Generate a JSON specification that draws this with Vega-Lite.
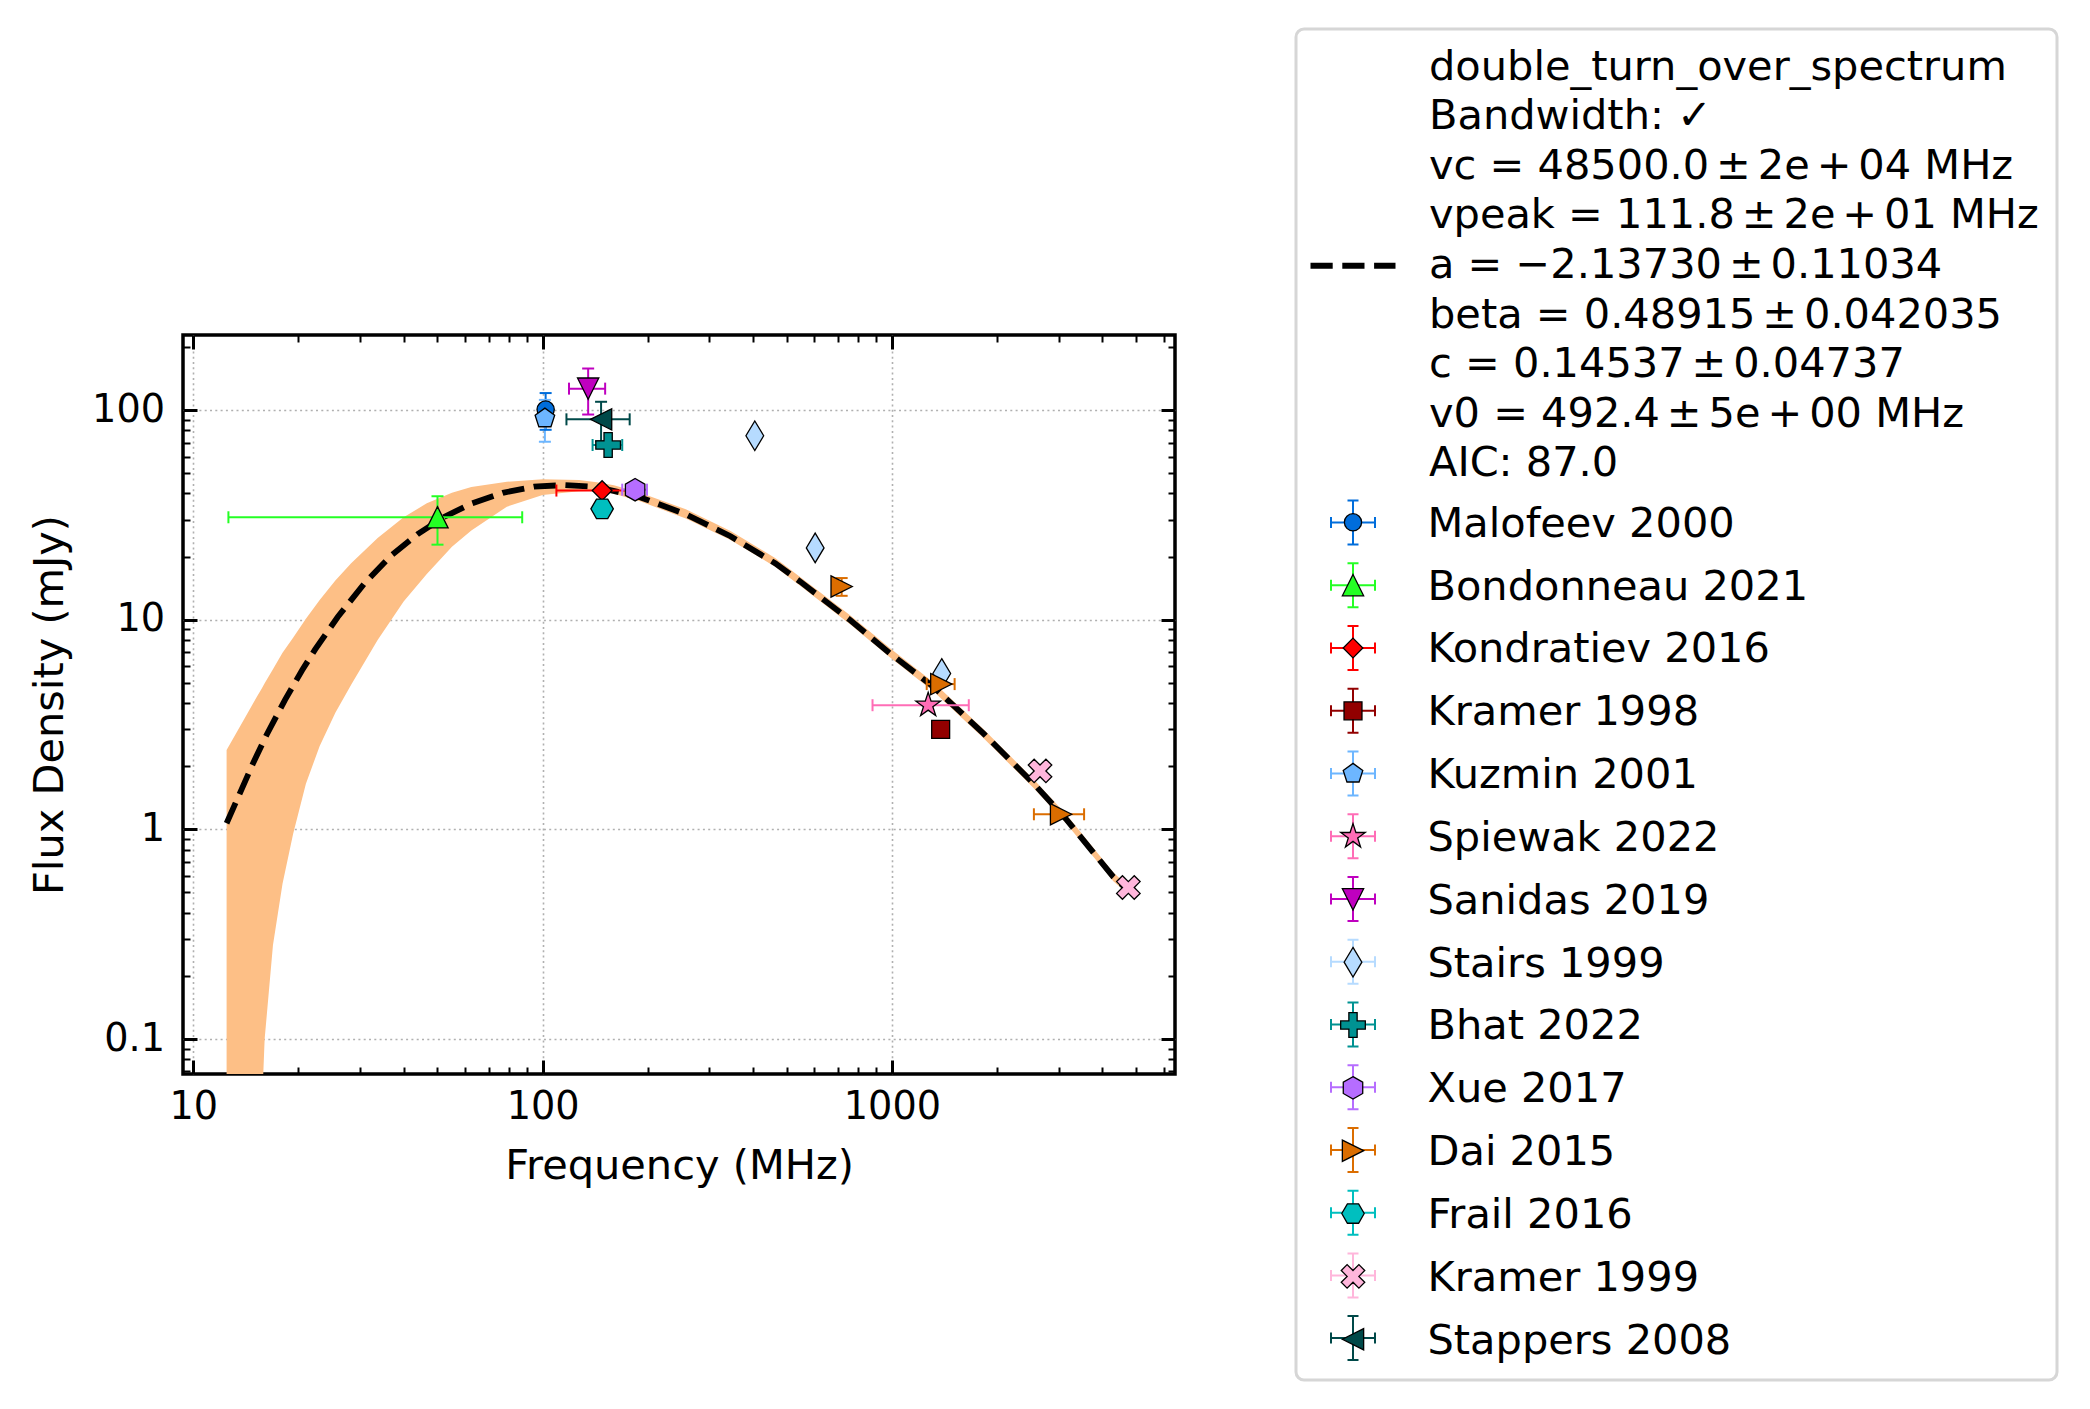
{
  "$schema": "https://vega.github.io/schema/vega-lite/v6.json",
  "autosize": {"type": "none"},
  "padding": {"left": 183, "top": 335, "right": 915, "bottom": 335},
  "width": 992,
  "height": 739,
  "background": "white",
  "config": {
    "view": {"stroke": "black", "strokeWidth": 3.5},
    "font": "DejaVu Sans"
  },
  "datasets": {
    "band": [
      {"f": 12.45, "lo": 0.03, "hi": 2.39},
      {"f": 14.0, "lo": 0.03, "hi": 3.37},
      {"f": 15.2, "lo": 0.03, "hi": 4.29},
      {"f": 15.7, "lo": 0.045, "hi": 4.7},
      {"f": 16.0, "lo": 0.1, "hi": 4.97},
      {"f": 16.9, "lo": 0.28, "hi": 5.8},
      {"f": 18.0, "lo": 0.55, "hi": 6.95},
      {"f": 19.3, "lo": 0.95, "hi": 8.2},
      {"f": 21.0, "lo": 1.65, "hi": 10.1},
      {"f": 23.0, "lo": 2.5, "hi": 12.4},
      {"f": 25.5, "lo": 3.6, "hi": 15.4},
      {"f": 28.3, "lo": 4.9, "hi": 18.6},
      {"f": 33.7, "lo": 8.0, "hi": 24.5},
      {"f": 40.0, "lo": 12.2, "hi": 30.8},
      {"f": 46.6, "lo": 16.5, "hi": 35.9},
      {"f": 55.0, "lo": 22.3, "hi": 40.3},
      {"f": 62.5, "lo": 26.6, "hi": 43.0},
      {"f": 79.0, "lo": 34.6, "hi": 45.5},
      {"f": 100, "lo": 39.3, "hi": 46.7},
      {"f": 127, "lo": 41.0, "hi": 46.4},
      {"f": 143, "lo": 41.2, "hi": 45.3},
      {"f": 160, "lo": 39.9, "hi": 43.8},
      {"f": 191, "lo": 36.6, "hi": 40.2},
      {"f": 257, "lo": 30.4, "hi": 33.6},
      {"f": 345, "lo": 24.0, "hi": 26.5},
      {"f": 463, "lo": 17.9, "hi": 19.7},
      {"f": 546, "lo": 14.5, "hi": 16.0},
      {"f": 759, "lo": 9.5, "hi": 10.5},
      {"f": 988, "lo": 6.6, "hi": 7.3},
      {"f": 1314, "lo": 4.56, "hi": 5.03},
      {"f": 1827, "lo": 2.73, "hi": 3.01},
      {"f": 2540, "lo": 1.58, "hi": 1.74},
      {"f": 3166, "lo": 1.06, "hi": 1.17},
      {"f": 4305, "lo": 0.565, "hi": 0.623},
      {"f": 4750, "lo": 0.49, "hi": 0.535}
    ],
    "curve": [
      {"f": 12.45, "s": 1.07},
      {"f": 13.5, "s": 1.45},
      {"f": 14.85, "s": 2.08},
      {"f": 16.2, "s": 2.82},
      {"f": 18.3, "s": 4.15},
      {"f": 20.5, "s": 5.75},
      {"f": 22.3, "s": 7.2},
      {"f": 25.9, "s": 10.3},
      {"f": 30.9, "s": 14.9},
      {"f": 36.8, "s": 20.2},
      {"f": 44.0, "s": 25.7},
      {"f": 52.4, "s": 31.0},
      {"f": 62.5, "s": 35.8},
      {"f": 76.9, "s": 40.3},
      {"f": 94.4, "s": 43.1},
      {"f": 116, "s": 43.9},
      {"f": 143, "s": 43.0},
      {"f": 191, "s": 38.3},
      {"f": 257, "s": 31.8},
      {"f": 345, "s": 25.0},
      {"f": 463, "s": 18.6},
      {"f": 546, "s": 15.2},
      {"f": 759, "s": 9.96},
      {"f": 988, "s": 6.9},
      {"f": 1314, "s": 4.79},
      {"f": 1827, "s": 2.87},
      {"f": 2540, "s": 1.66},
      {"f": 3166, "s": 1.11},
      {"f": 4305, "s": 0.593},
      {"f": 4750, "s": 0.512}
    ],
    "pts": [
      {"source": "Malofeev 2000", "f": 102, "s": 100.5, "s_lo": 80.5, "s_hi": 120.5},
      {"source": "Bondonneau 2021", "f": 50, "s": 30.8, "f_lo": 12.6, "f_hi": 87.4, "s_lo": 22.8, "s_hi": 38.8},
      {"source": "Kondratiev 2016", "f": 148, "s": 41.3, "f_lo": 109.5, "f_hi": 186.5},
      {"source": "Kramer 1998", "f": 1379, "s": 3.0},
      {"source": "Kuzmin 2001", "f": 101.5, "s": 91.2, "s_lo": 70.6, "s_hi": 111.8},
      {"source": "Spiewak 2022", "f": 1270, "s": 3.91, "f_lo": 880, "f_hi": 1660},
      {"source": "Sanidas 2019", "f": 135, "s": 126.5, "f_lo": 119, "f_hi": 151, "s_lo": 95.2, "s_hi": 157.8},
      {"source": "Stairs 1999", "f": 405, "s": 75.4},
      {"source": "Stairs 1999", "f": 603, "s": 22.0},
      {"source": "Stairs 1999", "f": 1389, "s": 5.54},
      {"source": "Bhat 2022", "f": 154, "s": 68.1, "f_lo": 139, "f_hi": 169},
      {"source": "Xue 2017", "f": 184, "s": 41.7, "f_lo": 169, "f_hi": 199},
      {"source": "Dai 2015", "f": 718, "s": 14.4, "s_lo": 13.0, "s_hi": 15.8},
      {"source": "Dai 2015", "f": 1385, "s": 4.93, "f_lo": 1258, "f_hi": 1512},
      {"source": "Dai 2015", "f": 3050, "s": 1.18, "f_lo": 2550, "f_hi": 3550},
      {"source": "Frail 2016", "f": 148, "s": 33.8},
      {"source": "Kramer 1999", "f": 2655, "s": 1.9},
      {"source": "Kramer 1999", "f": 4753, "s": 0.528},
      {"source": "Stappers 2008", "f": 147, "s": 90.3, "f_lo": 117, "f_hi": 177.5, "s_lo": 71, "s_hi": 109.5}
    ]
  },
  "resolve": {"axis": {"x": "independent", "y": "independent"}},
  "layer": [
    {
      "data": {"name": "band"},
      "mark": {"type": "area", "fill": "#fdbf86", "clip": true, "interpolate": "linear"},
      "encoding": {
        "x": {"field": "f", "type": "quantitative", "scale": {"type": "log", "domain": [9.34, 6464], "nice": false},
          "axis": {"orient": "bottom", "values": [10, 100, 1000], "format": "~g", "labelFont": "DejaVu Sans", "labelFontSize": 38.2, "labelColor": "black", "labelPadding": 14, "labelFlush": false, "labelOverlap": false, "labelBound": false, "ticks": false, "tickSize": 0, "domain": false, "grid": true, "gridColor": "#b0b0b0", "gridDash": [2, 3.3], "gridWidth": 1.6, "title": "Frequency (MHz)", "titleFont": "DejaVu Sans", "titleFontSize": 41.5, "titleFontWeight": "normal", "titleColor": "black", "titleBaseline": "alphabetic", "titleY": 104}},
        "y": {"field": "lo", "type": "quantitative", "scale": {"type": "log", "domain": [0.0681, 228], "nice": false},
          "axis": {"orient": "left", "values": [0.1, 1, 10, 100], "format": "~g", "labelFont": "DejaVu Sans", "labelFontSize": 38.2, "labelColor": "black", "labelPadding": 18.5, "labelFlush": false, "labelOverlap": false, "labelBound": false, "ticks": false, "tickSize": 0, "domain": false, "grid": true, "gridColor": "#b0b0b0", "gridDash": [2, 3.3], "gridWidth": 1.6, "title": "Flux Density (mJy)", "titleFont": "DejaVu Sans", "titleFontSize": 41.5, "titleFontWeight": "normal", "titleColor": "black", "titleAngle": 270, "titleBaseline": "alphabetic", "titleAlign": "center", "titleX": -121, "titleY": 369.5}},
        "y2": {"field": "hi"}
      }
    },
    {
      "data": {"name": "curve"},
      "mark": {"type": "line", "stroke": "black", "strokeWidth": 5.8, "strokeCap": "butt", "clip": true},
      "encoding": {
        "x": {"field": "f", "type": "quantitative", "scale": {"type": "log", "domain": [9.34, 6464], "nice": false},
          "axis": {"orient": "bottom", "values": [10, 100, 1000], "labels": false, "domain": false, "grid": false, "ticks": true, "tickSize": 14, "tickWidth": 3, "tickColor": "black", "offset": -14, "title": null}},
        "y": {"field": "s", "type": "quantitative", "scale": {"type": "log", "domain": [0.0681, 228], "nice": false},
          "axis": {"orient": "left", "values": [0.1, 1, 10, 100], "labels": false, "domain": false, "grid": false, "ticks": true, "tickSize": 14, "tickWidth": 3, "tickColor": "black", "offset": -14, "title": null}},
        "strokeDash": {"datum": "fit", "type": "nominal", "scale": {"domain": ["fit"], "range": [[22.2, 9.6]]},
          "legend": {"orient": "none", "legendX": 1124.5, "legendY": -114.8, "title": null, "labelExpr": "''", "labelFontSize": 1, "symbolType": "stroke", "symbolSize": 7225, "symbolStrokeColor": "black", "symbolStrokeWidth": 6, "symbolDash": [22.2, 9.6], "padding": 0, "symbolOffset": 0}}
      }
    },
    {
      "data": {"name": "pts"},
      "transform": [{"filter": "isValid(datum.s_lo)"}],
      "mark": {"type": "rule", "strokeWidth": 2, "opacity": 1},
      "encoding": {
        "x": {"field": "f", "type": "quantitative", "scale": {"type": "log", "domain": [9.34, 6464], "nice": false},
          "axis": {"orient": "bottom", "values": [20, 30, 40, 50, 60, 70, 80, 90, 200, 300, 400, 500, 600, 700, 800, 900, 2000, 3000, 4000, 5000, 6000], "labels": false, "domain": false, "grid": false, "ticks": true, "tickSize": 7, "tickWidth": 2, "tickColor": "black", "offset": -7, "title": null}},
        "y": {"field": "s_lo", "type": "quantitative", "scale": {"type": "log", "domain": [0.0681, 228], "nice": false},
          "axis": {"orient": "left", "values": [0.07, 0.08, 0.09, 0.2, 0.3, 0.4, 0.5, 0.6, 0.7, 0.8, 0.9, 2, 3, 4, 5, 6, 7, 8, 9, 20, 30, 40, 50, 60, 70, 80, 90, 200], "labels": false, "domain": false, "grid": false, "ticks": true, "tickSize": 7, "tickWidth": 2, "tickColor": "black", "offset": -7, "title": null}},
        "y2": {"field": "s_hi"},
        "color": {"field": "source", "type": "nominal",
          "scale": {"domain": ["Malofeev 2000", "Bondonneau 2021", "Kondratiev 2016", "Kramer 1998", "Kuzmin 2001", "Spiewak 2022", "Sanidas 2019", "Stairs 1999", "Bhat 2022", "Xue 2017", "Dai 2015", "Frail 2016", "Kramer 1999", "Stappers 2008", "zz"],
                    "range": ["#006ddb", "#24ff24", "#ff0000", "#920000", "#6db6ff", "#ff6db6", "#bf00bf", "#b6dbff", "#009292", "#b66dff", "#db6d00", "#00bfbf", "#ffb6db", "#004949", "#000000"]},
          "legend": {"orient": "none", "legendX": 1113, "legendY": 147,
            "values": ["Malofeev 2000", "Bondonneau 2021", "Kondratiev 2016", "Kramer 1998", "Kuzmin 2001", "Spiewak 2022", "Sanidas 2019", "Stairs 1999", "Bhat 2022", "Xue 2017", "Dai 2015", "Frail 2016", "Kramer 1999", "Stappers 2008"],
            "title": null,
            "labelExpr": "''", "labelFont": "DejaVu Sans", "labelFontSize": 41.5, "labelLimit": 3000, "labelOffset": 51.5,
            "symbolType": "M-1,0L1,0M0,-1L0,1M-1,-0.25L-1,0.25M1,-0.25L1,0.25M-0.25,-1L0.25,-1M-0.25,1L0.25,1",
            "symbolSize": 1936, "symbolStrokeWidth": 2, "symbolFillColor": "transparent", "symbolOffset": 16.5, "symbolOpacity": 1,
            "rowPadding": 10.74, "padding": 17.5}}
      }
    },
    {
      "data": {"name": "pts"},
      "transform": [{"filter": "isValid(datum.f_lo)"}],
      "mark": {"type": "rule", "strokeWidth": 2, "opacity": 1},
      "encoding": {
        "x": {"field": "f_lo", "type": "quantitative", "scale": {"type": "log", "domain": [9.34, 6464], "nice": false},
          "axis": {"orient": "top", "values": [10, 100, 1000], "labels": false, "domain": false, "grid": false, "ticks": true, "tickSize": 14, "tickWidth": 3, "tickColor": "black", "offset": -14, "title": null}},
        "x2": {"field": "f_hi"},
        "y": {"field": "s", "type": "quantitative", "scale": {"type": "log", "domain": [0.0681, 228], "nice": false},
          "axis": {"orient": "right", "values": [0.1, 1, 10, 100], "labels": false, "domain": false, "grid": false, "ticks": true, "tickSize": 14, "tickWidth": 3, "tickColor": "black", "offset": -14, "title": null}},
        "color": {"field": "source", "type": "nominal"}
      }
    },
    {
      "data": {"name": "pts"},
      "transform": [{"filter": "isValid(datum.s_hi)"}],
      "mark": {"type": "point", "filled": false, "shape": "M-1,0L1,0", "size": 144, "strokeWidth": 2, "opacity": 1},
      "encoding": {
        "x": {"field": "f", "type": "quantitative", "scale": {"type": "log", "domain": [9.34, 6464], "nice": false},
          "axis": {"orient": "top", "values": [20, 30, 40, 50, 60, 70, 80, 90, 200, 300, 400, 500, 600, 700, 800, 900, 2000, 3000, 4000, 5000, 6000], "labels": false, "domain": false, "grid": false, "ticks": true, "tickSize": 7, "tickWidth": 2, "tickColor": "black", "offset": -7, "title": null}},
        "y": {"field": "s_hi", "type": "quantitative", "scale": {"type": "log", "domain": [0.0681, 228], "nice": false},
          "axis": {"orient": "right", "values": [0.07, 0.08, 0.09, 0.2, 0.3, 0.4, 0.5, 0.6, 0.7, 0.8, 0.9, 2, 3, 4, 5, 6, 7, 8, 9, 20, 30, 40, 50, 60, 70, 80, 90, 200], "labels": false, "domain": false, "grid": false, "ticks": true, "tickSize": 7, "tickWidth": 2, "tickColor": "black", "offset": -7, "title": null}},
        "color": {"field": "source", "type": "nominal"}
      }
    },
    {
      "data": {"name": "pts"},
      "transform": [{"filter": "isValid(datum.s_lo)"}],
      "mark": {"type": "point", "filled": false, "shape": "M-1,0L1,0", "size": 144, "strokeWidth": 2, "opacity": 1},
      "encoding": {
        "x": {"field": "f", "type": "quantitative", "scale": {"type": "log", "domain": [9.34, 6464], "nice": false}, "axis": null},
        "y": {"field": "s_lo", "type": "quantitative", "scale": {"type": "log", "domain": [0.0681, 228], "nice": false}, "axis": null},
        "color": {"field": "source", "type": "nominal"}
      }
    },
    {
      "data": {"name": "pts"},
      "transform": [{"filter": "isValid(datum.f_lo)"}],
      "mark": {"type": "point", "filled": false, "shape": "M0,-1L0,1", "size": 144, "strokeWidth": 2, "opacity": 1},
      "encoding": {
        "x": {"field": "f_lo", "type": "quantitative", "scale": {"type": "log", "domain": [9.34, 6464], "nice": false}, "axis": null},
        "y": {"field": "s", "type": "quantitative", "scale": {"type": "log", "domain": [0.0681, 228], "nice": false}, "axis": null},
        "color": {"field": "source", "type": "nominal"}
      }
    },
    {
      "data": {"name": "pts"},
      "transform": [{"filter": "isValid(datum.f_hi)"}],
      "mark": {"type": "point", "filled": false, "shape": "M0,-1L0,1", "size": 144, "strokeWidth": 2, "opacity": 1},
      "encoding": {
        "x": {"field": "f_hi", "type": "quantitative", "scale": {"type": "log", "domain": [9.34, 6464], "nice": false}, "axis": null},
        "y": {"field": "s", "type": "quantitative", "scale": {"type": "log", "domain": [0.0681, 228], "nice": false}, "axis": null},
        "color": {"field": "source", "type": "nominal"}
      }
    },
    {
      "data": {"name": "pts"},
      "mark": {"type": "point", "filled": true, "size": 1936, "stroke": "black", "strokeWidth": 1.3, "opacity": 1},
      "encoding": {
        "x": {"field": "f", "type": "quantitative", "scale": {"type": "log", "domain": [9.34, 6464], "nice": false}, "axis": null},
        "y": {"field": "s", "type": "quantitative", "scale": {"type": "log", "domain": [0.0681, 228], "nice": false}, "axis": null},
        "fill": {"field": "source", "type": "nominal",
          "scale": {"domain": ["Malofeev 2000", "Bondonneau 2021", "Kondratiev 2016", "Kramer 1998", "Kuzmin 2001", "Spiewak 2022", "Sanidas 2019", "Stairs 1999", "Bhat 2022", "Xue 2017", "Dai 2015", "Frail 2016", "Kramer 1999", "Stappers 2008"],
                    "range": ["#006ddb", "#24ff24", "#ff0000", "#920000", "#6db6ff", "#ff6db6", "#bf00bf", "#b6dbff", "#009292", "#b66dff", "#db6d00", "#00bfbf", "#ffb6db", "#004949"]},
          "legend": {"orient": "none", "legendX": 1113, "legendY": -306,
            "title": ["double_turn_over_spectrum", "Bandwidth: ✓", "vc = 48500.0\u2006±\u20062e\u2006+\u200604 MHz", "vpeak = 111.8\u2006±\u20062e\u2006+\u200601 MHz", "a = −2.13730\u2006±\u20060.11034", "beta = 0.48915\u2006±\u20060.042035", "c = 0.14537\u2006±\u20060.04737", "v0 = 492.4\u2006±\u20065e\u2006+\u200600 MHz", "AIC: 87.0"],
            "titleColor": "black", "titleFont": "DejaVu Sans", "titleFontSize": 41.5, "titleFontWeight": "normal", "titleLineHeight": 49.6, "titleAnchor": "start", "titleAlign": "left", "titleBaseline": "top", "titleLimit": 3000, "titlePadding": 14.5,
            "labelFont": "DejaVu Sans", "labelFontSize": 41.5, "labelColor": "black", "labelLimit": 3000, "labelOffset": 51.5,
            "symbolSize": 1936, "symbolStrokeColor": "black", "symbolStrokeWidth": 1.3, "symbolOffset": 16.5, "symbolOpacity": 1,
            "rowPadding": 16.84, "padding": 17.5, "strokeColor": "#d6d6d6", "cornerRadius": 8,
            "encode": {"title": {"update": {"dx": {"value": 115.5}}}, "labels": {"update": {"dy": {"value": 2.4}}}, "legend": {"update": {"strokeWidth": {"value": 3}}}}}},
        "shape": {"field": "source", "type": "nominal",
          "scale": {"domain": ["Malofeev 2000", "Bondonneau 2021", "Kondratiev 2016", "Kramer 1998", "Kuzmin 2001", "Spiewak 2022", "Sanidas 2019", "Stairs 1999", "Bhat 2022", "Xue 2017", "Dai 2015", "Frail 2016", "Kramer 1999", "Stappers 2008"],
                    "range": [
                      "M0.392,0A0.392,0.392,0,1,1,-0.392,0A0.392,0.392,0,1,1,0.392,0Z",
                      "M0,-0.484L0.484,0.484L-0.484,0.484Z",
                      "M0,-0.448L0.448,0L0,0.448L-0.448,0Z",
                      "M-0.408,-0.408L0.408,-0.408L0.408,0.408L-0.408,0.408Z",
                      "M0,-0.468L0.445,-0.145L0.275,0.379L-0.275,0.379L-0.445,-0.145Z",
                      "M0,-0.586L0.132,-0.181L0.557,-0.181L0.213,0.069L0.344,0.474L0,0.224L-0.344,0.474L-0.213,0.069L-0.557,-0.181L-0.132,-0.181Z",
                      "M0,0.484L0.484,-0.484L-0.484,-0.484Z",
                      "M0,-0.672L0.403,0L0,0.672L-0.403,0Z",
                      "M-0.188,-0.56L0.188,-0.56L0.188,-0.188L0.56,-0.188L0.56,0.188L0.188,0.188L0.188,0.56L-0.188,0.56L-0.188,0.188L-0.56,0.188L-0.56,-0.188L-0.188,-0.188Z",
                      "M0,-0.51L0.442,-0.255L0.442,0.255L0,0.51L-0.442,0.255L-0.442,-0.255Z",
                      "M0.484,0L-0.484,-0.484L-0.484,0.484Z",
                      "M0.51,0L0.255,0.442L-0.255,0.442L-0.51,0L-0.255,-0.442L0.255,-0.442Z",
                      "M0,-0.267L0.268,-0.534L0.534,-0.268L0.267,0L0.534,0.268L0.268,0.534L0,0.267L-0.268,0.534L-0.534,0.268L-0.267,0L-0.534,-0.268L-0.268,-0.534Z",
                      "M-0.484,0L0.484,-0.484L0.484,0.484Z"
                    ]},
          "legend": {"orient": "none", "legendX": 1113, "legendY": -306,
            "title": ["double_turn_over_spectrum", "Bandwidth: ✓", "vc = 48500.0\u2006±\u20062e\u2006+\u200604 MHz", "vpeak = 111.8\u2006±\u20062e\u2006+\u200601 MHz", "a = −2.13730\u2006±\u20060.11034", "beta = 0.48915\u2006±\u20060.042035", "c = 0.14537\u2006±\u20060.04737", "v0 = 492.4\u2006±\u20065e\u2006+\u200600 MHz", "AIC: 87.0"],
            "titleColor": "black", "titleFont": "DejaVu Sans", "titleFontSize": 41.5, "titleFontWeight": "normal", "titleLineHeight": 49.6, "titleAnchor": "start", "titleAlign": "left", "titleBaseline": "top", "titleLimit": 3000, "titlePadding": 14.5,
            "labelFont": "DejaVu Sans", "labelFontSize": 41.5, "labelColor": "black", "labelLimit": 3000, "labelOffset": 51.5,
            "symbolSize": 1936, "symbolStrokeColor": "black", "symbolStrokeWidth": 1.3, "symbolOffset": 16.5, "symbolOpacity": 1,
            "rowPadding": 16.84, "padding": 17.5, "strokeColor": "#d6d6d6", "cornerRadius": 8,
            "encode": {"title": {"update": {"dx": {"value": 115.5}}}, "labels": {"update": {"dy": {"value": 2.4}}}, "legend": {"update": {"strokeWidth": {"value": 3}}}}}}
      }
    }
  ]
}
